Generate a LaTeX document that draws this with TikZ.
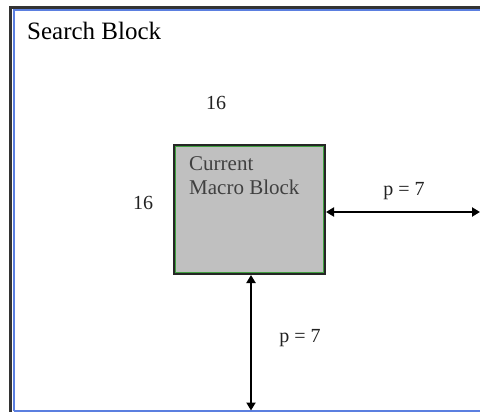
\documentclass[tikz,border=0pt]{standalone}
\usepackage{fontspec}
\setmainfont{Liberation Serif}
\usetikzlibrary{arrows.meta,calc}
\definecolor{frameblue}{HTML}{5B7FE0}
\definecolor{boxgreen}{HTML}{3FA03F}
\definecolor{boxgray}{HTML}{C0C0C0}
\definecolor{txt}{HTML}{222222}
\tikzset{
  lbl/.style={inner sep=0pt, text=txt, font=\fontsize{20}{22}\selectfont},
  dimarrow/.style={line width=2pt, {Triangle[length=8pt,width=9pt]}-{Triangle[length=8pt,width=9pt]}},
}
\begin{document}
\begin{tikzpicture}[x=1pt,y=-1pt]
\useasboundingbox (0,0) rectangle (480,412);
% outer search block frame
\draw[line width=3pt, draw=black!80] (10.5,412) -- (10.5,7.5) -- (480,7.5);
\draw[line width=1.5pt, draw=frameblue] (13.8,411) -- (13.8,9.8) -- (480,9.8);
\draw[line width=1.5pt, draw=frameblue] (13.8,411) -- (480,411);
\node[inner sep=0pt, anchor=west, text=black, font=\fontsize{25}{27}\selectfont] (title) at (27,31) {Search Block};
% current macro block
\node[draw=black!85, line width=2pt, fill=boxgray, minimum width=151pt, minimum height=129pt, inner sep=0pt] (mb) at (249.5,209.5) {};
\draw[boxgreen, line width=1.2pt] ($(mb.north west)+(2.6,2.6)$) rectangle ($(mb.south east)+(-2.6,-2.6)$);
\node[lbl, anchor=north west, align=left, text=black!75, font=\fontsize{21}{24}\selectfont] (mbtext) at (189,156) {Current\\Macro Block};
% dimension labels
\node[lbl] (wlabel) at (216,103) {16};
\node[lbl] (hlabel) at (143,203) {16};
% arrows
\coordinate (rt) at (480,212);
\coordinate (bt) at (251,410.5);
\draw[dimarrow] (mb.east |- rt) -- (rt);
\draw[dimarrow] (mb.south -| bt) -- (bt);
\node[lbl] (pright) at (404,191) {p = 7};
\node[lbl] (pbottom) at (300,338) {p = 7};
\end{tikzpicture}
\end{document}
